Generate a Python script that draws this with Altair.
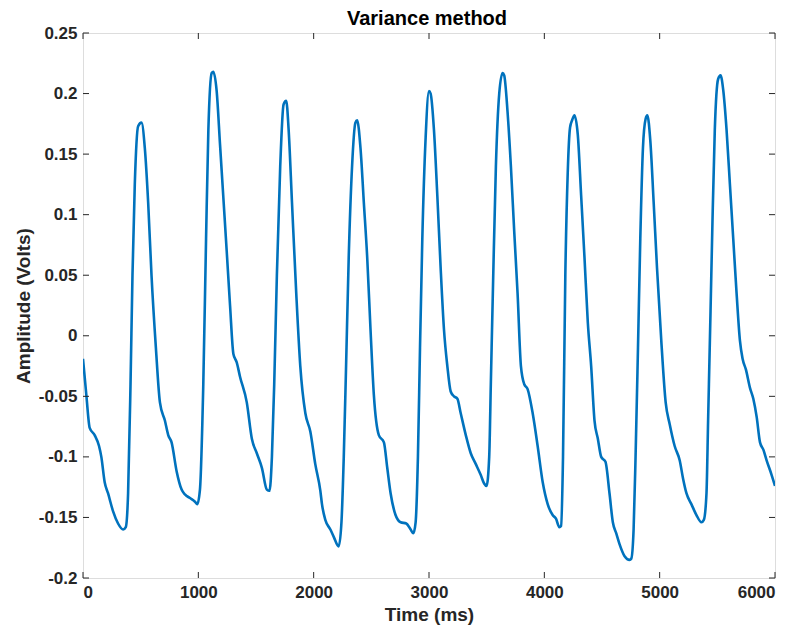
import altair as alt
import pandas as pd

# Signal samples (time in ms, amplitude in volts)
time_ms = [0, 29, 58, 101, 139, 159, 188, 217, 261, 304, 348, 371, 391, 412, 429, 449, 478, 507, 536, 565,
           594, 632, 667, 710, 739, 768, 812, 855, 884, 928, 971, 991, 1014, 1043, 1067, 1087, 1116, 1130, 1159, 1188,
           1217, 1246, 1275, 1304, 1333, 1362, 1420, 1464, 1507, 1551, 1594, 1617, 1638, 1658, 1681, 1710, 1739, 1762,
           1783, 1812, 1849, 1884, 1928, 1971, 2014, 2058, 2072, 2101, 2145, 2174, 2217, 2241, 2261, 2281, 2304, 2333,
           2362, 2377, 2406, 2435, 2464, 2493, 2522, 2565, 2609, 2638, 2667, 2710, 2754, 2803, 2841, 2864, 2884, 2904,
           2922, 2942, 2971, 3000, 3014, 3043, 3072, 3101, 3130, 3159, 3188, 3217, 3246, 3275, 3319, 3362, 3406, 3449,
           3478, 3499, 3522, 3536, 3557, 3580, 3609, 3638, 3652, 3681, 3710, 3739, 3768, 3797, 3826, 3855, 3899, 3942,
           3986, 4029, 4072, 4101, 4130, 4145, 4162, 4182, 4203, 4223, 4241, 4261, 4290, 4319, 4348, 4377, 4406, 4435,
           4464, 4493, 4530, 4565, 4594, 4623, 4652, 4696, 4739, 4754, 4774, 4791, 4812, 4832, 4855, 4878, 4893, 4919,
           4948, 4977, 5014, 5052, 5087, 5130, 5174, 5203, 5232, 5275, 5319, 5362, 5383, 5406, 5420, 5441, 5458, 5478,
           5507, 5528, 5551, 5580, 5609, 5638, 5667, 5696, 5719, 5748, 5783, 5812, 5841, 5870, 5899, 5928, 5971, 6000]
amplitude = [-0.019, -0.049, -0.076, -0.082, -0.091, -0.100, -0.121, -0.130, -0.145, -0.155, -0.160, -0.158, -0.130,
             -0.040, 0.050, 0.125, 0.173, 0.176, 0.155, 0.110,
             0.050, -0.010, -0.055, -0.070, -0.082, -0.088, -0.112, -0.127, -0.131, -0.134, -0.137, -0.139, -0.127,
             -0.040, 0.080, 0.170, 0.217, 0.218, 0.202, 0.158,
             0.114, 0.070, 0.025, -0.015, -0.022, -0.034, -0.055, -0.085, -0.097, -0.109, -0.127, -0.128, -0.100,
             -0.040, 0.050, 0.140, 0.191, 0.194,
             0.170, 0.110, 0.035, -0.025, -0.064, -0.079, -0.106, -0.128, -0.139, -0.152, -0.160, -0.166, -0.174,
             -0.154, -0.100, -0.025, 0.065, 0.140,
             0.176, 0.178, 0.155, 0.110, 0.065, 0.005, -0.049, -0.082, -0.088, -0.109, -0.130, -0.148, -0.154, -0.155,
             -0.160, -0.163, -0.154, -0.100,
             -0.010, 0.080, 0.164, 0.202, 0.200, 0.170, 0.116, 0.056, 0.005, -0.025, -0.046, -0.050, -0.052, -0.064,
             -0.082, -0.097, -0.106, -0.115,
             -0.122, -0.124, -0.100, -0.040, 0.050, 0.140, 0.200, 0.217, 0.215, 0.185, 0.140, 0.086, 0.035, -0.025,
             -0.040, -0.044, -0.064, -0.091,
             -0.121, -0.139, -0.148, -0.151, -0.158, -0.157, -0.100, 0.050, 0.135, 0.172, 0.178, 0.182, 0.166, 0.116,
             0.065, 0.011, -0.025, -0.070,
             -0.085, -0.100, -0.104, -0.130, -0.154, -0.163, -0.172, -0.182, -0.185, -0.184, -0.160, -0.100, -0.010,
             0.080, 0.155, 0.179, 0.182, 0.161,
             0.110, 0.056, -0.004, -0.055, -0.073, -0.091, -0.103, -0.118, -0.130, -0.139, -0.148, -0.154, -0.152,
             -0.130, -0.070, 0.020, 0.095, 0.170,
             0.212, 0.215, 0.203, 0.170, 0.125, 0.080, 0.035, -0.004, -0.019, -0.028, -0.043, -0.052, -0.067, -0.088,
             -0.094, -0.103, -0.115, -0.124]

x_ticks = [0, 1000, 2000, 3000, 4000, 5000, 6000]
y_ticks = [-0.2, -0.15, -0.1, -0.05, 0, 0.05, 0.1, 0.15, 0.2, 0.25]
title_text = ["Variance method"]

W, H = 692, 545
FONT = "Liberation Sans"
DARK = "#262626"

df = pd.DataFrame({"t": time_ms, "v": amplitude})
xt = pd.DataFrame({"t": x_ticks})
yt = pd.DataFrame({"v": y_ticks})
tt = pd.DataFrame({"label": title_text})

xscale = alt.Scale(domain=[0, 6000], nice=False, zero=False)
yscale = alt.Scale(domain=[-0.2, 0.25], nice=False, zero=False)

line = alt.Chart(df).mark_line(color="#0072BD", strokeWidth=2.6, clip=True, interpolate="monotone").encode(
    x=alt.X("t:Q", scale=xscale,
            axis=alt.Axis(title="Time (ms)", values=x_ticks, format="d", ticks=False, tickSize=0,
                          domain=False, grid=False, labelPadding=6, titlePadding=5,
                          labelFont=FONT, labelFontSize=17, labelFontWeight="bold", labelColor=DARK,
                          titleFont=FONT, titleFontSize=19, titleFontWeight="bold", titleColor=DARK)),
    y=alt.Y("v:Q", scale=yscale,
            axis=alt.Axis(title="Amplitude (Volts)", values=y_ticks, labelExpr="toString(datum.value)",
                          ticks=False, tickSize=0, domain=False, grid=False, labelPadding=6, titlePadding=5,
                          labelFont=FONT, labelFontSize=17, labelFontWeight="bold", labelColor=DARK,
                          titleFont=FONT, titleFontSize=19, titleFontWeight="bold", titleColor=DARK)),
    order="t:Q",
)

tick_col = DARK
xt_bottom = alt.Chart(xt).mark_rule(color=tick_col, strokeWidth=1).encode(
    x="t:Q", y=alt.value(H), y2=alt.value(H - 6))
xt_top = alt.Chart(xt).mark_rule(color=tick_col, strokeWidth=1).encode(
    x="t:Q", y=alt.value(0), y2=alt.value(6))
yt_left = alt.Chart(yt).mark_rule(color=tick_col, strokeWidth=1).encode(
    y="v:Q", x=alt.value(0), x2=alt.value(6))
yt_right = alt.Chart(yt).mark_rule(color=tick_col, strokeWidth=1).encode(
    y="v:Q", x=alt.value(W), x2=alt.value(W - 6))

title = alt.Chart(tt).mark_text(font=FONT, fontSize=20, fontWeight="bold", color="#000000",
                                align="center", baseline="top").encode(
    text="label:N", x=alt.value(W / 2 - 2), y=alt.value(-24))

chart = alt.layer(line, xt_bottom, xt_top, yt_left, yt_right, title).properties(
    width=W, height=H,
    autosize=alt.AutoSizeParams(type="none"),
    padding={"left": 75, "top": 25, "right": 14, "bottom": 48},
).configure_view(stroke=DARK, strokeWidth=1.2).configure(background="white")

chart.save("out.html", embed_options={"renderer": "svg", "actions": False})
